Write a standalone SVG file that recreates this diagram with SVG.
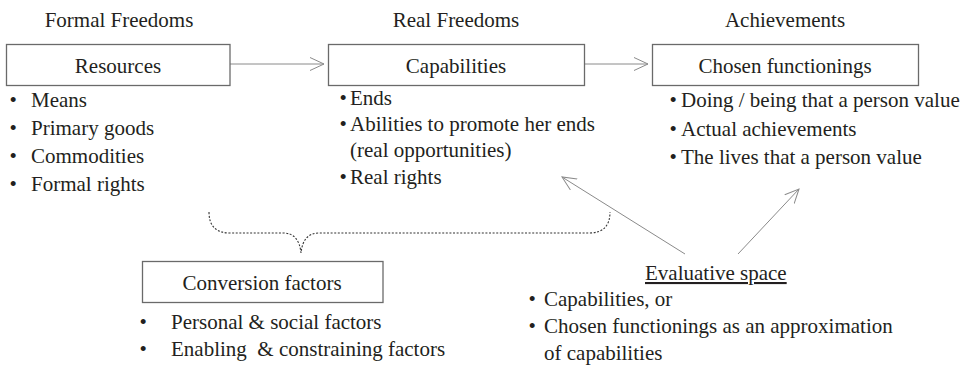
<svg xmlns="http://www.w3.org/2000/svg" width="967" height="367" viewBox="0 0 967 367">
<style>
.c{text-anchor:middle}
.box{fill:#fff;stroke:#6a6a6a;stroke-width:1.3}
.arr{fill:none;stroke:#8a8a8a;stroke-width:1}
.brace{fill:none;stroke:#333;stroke-width:1.1;stroke-dasharray:2 1.6}
</style>
<defs>
<marker id="ah" markerUnits="userSpaceOnUse" markerWidth="16" markerHeight="16" viewBox="0 0 16 16" refX="14" refY="7" orient="auto">
<path d="M0,0.5 L14,7 L0,13.5" fill="none" stroke="#8a8a8a" stroke-width="1"/>
</marker>
</defs>
<rect width="967" height="367" fill="#fff"/>

<g id="connectors">
<line class="arr" x1="230" y1="64" x2="324" y2="64" marker-end="url(#ah)"/>
<line class="arr" x1="585" y1="64" x2="648" y2="64" marker-end="url(#ah)"/>
<line class="arr" x1="685" y1="254" x2="562" y2="177" marker-end="url(#ah)"/>
<line class="arr" x1="738" y1="254" x2="799" y2="189" marker-end="url(#ah)"/>
<path class="brace" d="M209,212 Q209,233 230,233 L283,233 Q299,233 301,253 Q303,233 319,233 L589,233 Q610,233 610,212"/>
</g>

<g font-family="Liberation Serif, Times New Roman, serif" font-size="21" fill="#231f20">
<g id="header-formal"><text class="c" x="119" y="27">Formal Freedoms</text></g>
<g id="header-real"><text class="c" x="456" y="27">Real Freedoms</text></g>
<g id="header-achievements"><text class="c" x="785" y="27">Achievements</text></g>

<g id="resources">
<rect class="box" x="6.5" y="44.5" width="223.5" height="41"/>
<text class="c" x="118" y="73">Resources</text>
<text x="9.5" y="107">•</text><text x="31" y="107">Means</text>
<text x="9.5" y="135">•</text><text x="31" y="135">Primary goods</text>
<text x="9.5" y="163">•</text><text x="31" y="163">Commodities</text>
<text x="9.5" y="191">•</text><text x="31" y="191">Formal rights</text>
</g>

<g id="capabilities">
<rect class="box" x="328.5" y="44.5" width="256" height="41"/>
<text class="c" x="456" y="73">Capabilities</text>
<text x="339.5" y="105">•</text><text x="350" y="105">Ends</text>
<text x="339.5" y="131">•</text><text x="350" y="131">Abilities to promote her ends</text>
<text x="350" y="157">(real opportunities)</text>
<text x="339.5" y="184">•</text><text x="350" y="184">Real rights</text>
</g>

<g id="chosen-functionings">
<rect class="box" x="652.5" y="44.5" width="266" height="41"/>
<text class="c" x="785" y="73">Chosen functionings</text>
<text x="669.5" y="107">•</text><text x="681" y="107">Doing / being that a person value</text>
<text x="669.5" y="136">•</text><text x="681" y="136">Actual achievements</text>
<text x="669.5" y="164">•</text><text x="681" y="164">The lives that a person value</text>
</g>

<g id="conversion-factors">
<rect class="box" x="142.5" y="261.5" width="240.5" height="41"/>
<text class="c" x="262" y="290">Conversion factors</text>
<text x="139.5" y="329">•</text><text x="171" y="329">Personal &amp; social factors</text>
<text x="139.5" y="356">•</text><text x="171" y="356" xml:space="preserve">Enabling  &amp; constraining factors</text>
</g>

<g id="evaluative-space">
<text x="645" y="280" text-decoration="underline">Evaluative space</text>
<text x="528.5" y="306">•</text><text x="544" y="306">Capabilities, or</text>
<text x="528.5" y="333">•</text><text x="544" y="333">Chosen functionings as an approximation</text>
<text x="544" y="360">of capabilities</text>
</g>
</g>
</svg>
